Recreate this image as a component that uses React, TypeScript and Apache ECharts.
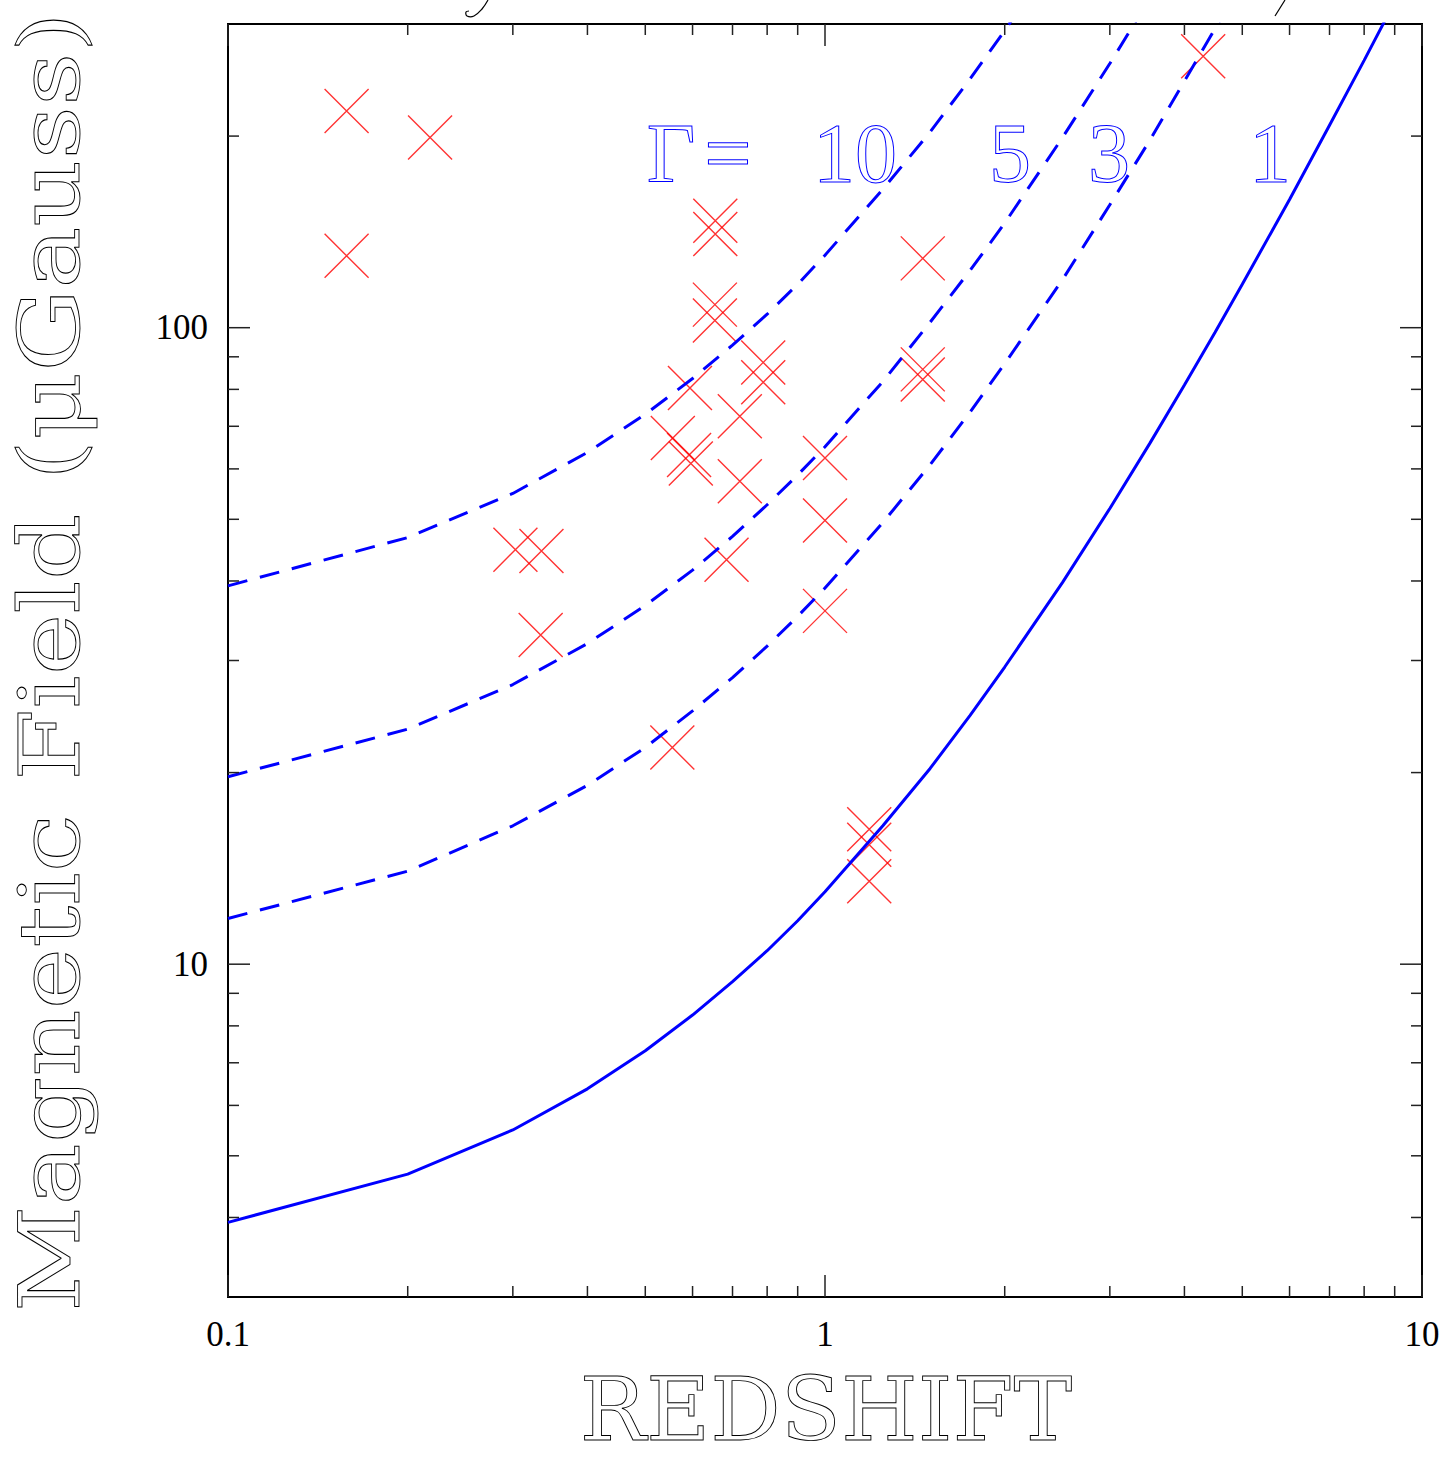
import React, { useEffect, useRef } from "react";
import * as echarts from "echarts";

// Redshift grid on which the equipartition curves are sampled
const curveRedshift = [0.1, 0.2, 0.3, 0.4, 0.5, 0.6, 0.7, 0.8, 0.9, 1, 1.25, 1.5, 1.75, 2, 2.5, 3, 3.5, 4, 4.5, 5, 6, 7, 8, 9];

// B (μGauss) along each curve, for Γ = 1, 3, 5, 10
const fieldGamma1 = [3.93, 4.68, 5.49, 6.37, 7.31, 8.32, 9.39, 10.5, 11.7, 13.0, 16.5, 20.3, 24.6, 29.3, 39.8, 52.0, 65.8, 81.3, 98.3, 117, 159, 208, 263, 325];
const fieldGamma3 = [11.8, 14.0, 16.5, 19.1, 21.9, 25.0, 28.2, 31.6, 35.2, 39.0, 49.4, 60.9, 73.7, 87.8, 119, 156, 197, 244, 295, 351];
const fieldGamma5 = [19.7, 23.4, 27.5, 31.9, 36.6, 41.6, 47.0, 52.7, 58.7, 65.0, 82.3, 102, 123, 146, 199, 260, 329];
const fieldGamma10 = [39.3, 46.8, 54.9, 63.7, 73.1, 83.2, 93.9, 105, 117, 130, 165, 203, 246, 293, 398];

// Individual sources: redshift and magnetic field
const sourceRedshift = [0.158, 0.218, 0.158, 0.655, 0.655, 0.654, 0.654, 0.788, 0.788, 0.594, 0.72, 0.556, 0.592, 0.596, 0.72, 1.0, 1.0, 0.303, 0.335, 0.334, 0.684, 1.0, 1.458, 1.458, 1.458, 0.555, 1.186, 1.186, 1.186, 4.3];
const sourceField = [219, 199, 129.7, 147.2, 140.3, 108.7, 102.6, 88.2, 82.1, 80.4, 72.6, 67.1, 63.1, 61.2, 57.4, 62.4, 49.8, 44.8, 44.6, 32.9, 43.2, 35.9, 128.5, 86.0, 82.9, 21.9, 16.3, 15.4, 13.5, 267];

// Axis ticks and labels
const xMajorTicks = [0.1, 1, 10];
const xMinorTicks = [0.2, 0.3, 0.4, 0.5, 0.6, 0.7, 0.8, 0.9, 2, 3, 4, 5, 6, 7, 8, 9];
const xTickLabels = ["0.1", "1", "10"];
const yMajorTicks = [10, 100];
const yMinorTicks = [4, 5, 6, 7, 8, 9, 20, 30, 40, 50, 60, 70, 80, 90, 200];
const yTickLabels = ["10", "100"];

const xTitle = "REDSHIFT";
const yTitle = "Magnetic Field (μGauss)";

// Curve key written across the top of the frame
const gammaLabels = ["Γ", "=", "10", "5", "3", "1"];
const gammaLabelX = [671, 728, 855, 1010, 1109, 1270];

const BLUE = "#0000ff";
const RED = "#ff0000";

function zip(xs: number[], ys: number[]) {
  return ys.map((y, i) => [xs[i], y]);
}

function labelFor(value: number, ticks: number[], labels: string[]) {
  const i = ticks.findIndex((t) => Math.abs(Math.log10(value) - Math.log10(t)) < 1e-6);
  return i >= 0 ? labels[i] : "";
}

function textWidth(text: string, font: string) {
  const ctx = document.createElement("canvas").getContext("2d");
  if (!ctx) return text.length * 50;
  ctx.font = font;
  return ctx.measureText(text).width;
}

export default function App() {
  const ref = useRef<HTMLDivElement>(null);

  useEffect(() => {
    document.body.style.margin = "0";
    const chart = echarts.init(ref.current!, null, { renderer: "svg" });

    const tickStyle = { stroke: "#222", lineWidth: 1.5 };

    const xTickData = [
      ...xMajorTicks.map((v) => [v, 10, 1]),
      ...xMinorTicks.map((v) => [v, 10, 0]),
    ];
    const yTickData = [
      ...yMajorTicks.map((v) => [1, v, 1]),
      ...yMinorTicks.map((v) => [1, v, 0]),
    ];

    // the vertical title is stretched along its run to span the frame height
    const yTitleFont = '84px "DejaVu Serif"';
    const yTitleSpan = 1300;
    const yTitleStretch = yTitleSpan / textWidth(yTitle, yTitleFont);

    chart.setOption({
      animation: false,
      backgroundColor: "#ffffff",
      grid: {
        left: 228,
        right: 26,
        top: 24,
        bottom: 166,
        show: true,
        borderColor: "#000",
        borderWidth: 2,
        backgroundColor: "transparent",
      },
      xAxis: {
        type: "log",
        logBase: 10,
        min: 0.1,
        max: 10,
        axisLine: { show: false },
        axisTick: { show: false },
        splitLine: { show: false },
        axisLabel: {
          margin: 20,
          color: "#000",
          fontFamily: "Liberation Serif",
          fontSize: 35,
          formatter: (v: number) => labelFor(v, xMajorTicks, xTickLabels),
        },
      },
      yAxis: {
        type: "log",
        logBase: 10,
        min: 3,
        max: 300,
        axisLine: { show: false },
        axisTick: { show: false },
        splitLine: { show: false },
        axisLabel: {
          margin: 20,
          color: "#000",
          fontFamily: "Liberation Serif",
          fontSize: 35,
          formatter: (v: number) => labelFor(v, yMajorTicks, yTickLabels),
        },
      },
      graphic: [
        {
          type: "text",
          x: 50,
          y: 662,
          rotation: Math.PI / 2,
          scaleX: yTitleStretch,
          style: {
            text: yTitle,
            font: yTitleFont,
            fill: "none",
            stroke: "#000",
            lineWidth: 0.9,
            align: "center",
            verticalAlign: "middle",
          },
        },
        {
          type: "text",
          x: 826,
          y: 1409,
          style: {
            text: xTitle,
            font: '88px "DejaVu Serif"',
            fill: "none",
            stroke: "#000",
            lineWidth: 0.9,
            align: "center",
            verticalAlign: "middle",
          },
        },
        ...gammaLabels.map((t, i) => ({
          type: "text",
          x: gammaLabelX[i],
          y: 153,
          style: {
            text: t,
            font: '84px "Liberation Serif"',
            fill: "none",
            stroke: BLUE,
            lineWidth: 1,
            align: "center",
            verticalAlign: "middle",
          },
        })),
        // descenders of the heading that sits above the frame
        {
          type: "polyline",
          shape: { points: [[488, 0], [482, 9], [474, 16], [467, 16], [466, 12], [469, 11]], smooth: 0.4 },
          style: { stroke: "#000", lineWidth: 1.2, fill: "none" },
        },
        {
          type: "line",
          shape: { x1: 1285, y1: 0, x2: 1275, y2: 16 },
          style: { stroke: "#000", lineWidth: 1.2 },
        },
      ],
      series: [
        {
          type: "scatter",
          data: zip(sourceRedshift, sourceField),
          symbol: "path://M0 0L10 10M10 0L0 10",
          symbolSize: 44,
          itemStyle: { color: "rgba(0,0,0,0)", borderColor: RED, borderWidth: 1.4 },
          z: 2,
        },
        {
          type: "line",
          data: zip(curveRedshift, fieldGamma1),
          showSymbol: false,
          clip: true,
          lineStyle: { color: BLUE, width: 3, type: "solid" },
          z: 3,
        },
        ...[fieldGamma3, fieldGamma5, fieldGamma10].map((vals) => ({
          type: "line",
          data: zip(curveRedshift, vals),
          showSymbol: false,
          clip: true,
          lineStyle: { color: BLUE, width: 3, type: [20, 13] },
          z: 3,
        })),
        {
          type: "custom",
          silent: true,
          clip: false,
          data: xTickData,
          encode: { x: 0, y: 1 },
          renderItem: (params: any, api: any) => {
            const cs = params.coordSys;
            const p = api.coord([api.value(0), api.value(1)]);
            const len = api.value(2) ? 22 : 11;
            const bottom = cs.y + cs.height;
            return {
              type: "group",
              children: [
                { type: "line", shape: { x1: p[0], y1: bottom, x2: p[0], y2: bottom - len }, style: tickStyle },
                { type: "line", shape: { x1: p[0], y1: cs.y, x2: p[0], y2: cs.y + len }, style: tickStyle },
              ],
            };
          },
          z: 4,
        },
        {
          type: "custom",
          silent: true,
          clip: false,
          data: yTickData,
          encode: { x: 0, y: 1 },
          renderItem: (params: any, api: any) => {
            const cs = params.coordSys;
            const p = api.coord([api.value(0), api.value(1)]);
            const len = api.value(2) ? 22 : 11;
            const right = cs.x + cs.width;
            return {
              type: "group",
              children: [
                { type: "line", shape: { x1: cs.x, y1: p[1], x2: cs.x + len, y2: p[1] }, style: tickStyle },
                { type: "line", shape: { x1: right, y1: p[1], x2: right - len, y2: p[1] }, style: tickStyle },
              ],
            };
          },
          z: 4,
        },
      ],
    });

    return () => chart.dispose();
  }, []);

  return (
    <div
      ref={ref}
      style={{ position: "absolute", left: 0, top: 0, width: 1448, height: 1463 }}
    />
  );
}
